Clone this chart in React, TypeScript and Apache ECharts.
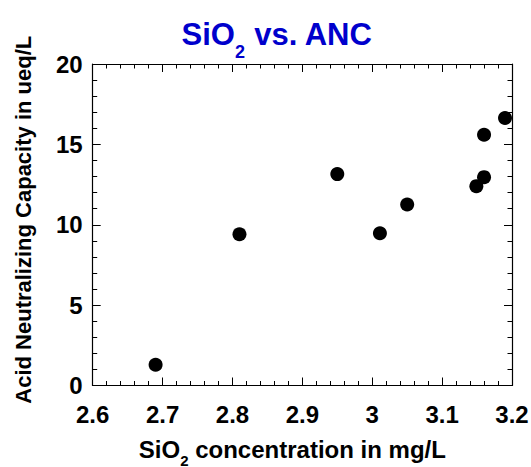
import React, { useEffect, useRef } from "react";
import * as echarts from "echarts";

const sio2 = [2.69, 2.81, 2.95, 3.011, 3.05, 3.149, 3.16, 3.16, 3.19];
const anc = [1.29, 9.41, 13.15, 9.47, 11.26, 12.4, 12.96, 15.6, 16.64];
const xTicks = [2.6, 2.7, 2.8, 2.9, 3.0, 3.1, 3.2];
const yTicks = [0, 5, 10, 15, 20];

const FONT = "'Liberation Sans', Arial, sans-serif";
const BLUE = "#0000CC";

export default function App() {
  const ref = useRef<HTMLDivElement>(null);
  useEffect(() => {
    if (!ref.current) return;
    const chart = echarts.init(ref.current, undefined, { renderer: "svg" });
    const tickCommon = {
      axisLine: { show: true, onZero: false, lineStyle: { color: "#000", width: 1.2 } },
      axisTick: { show: true, inside: true, length: 8, lineStyle: { color: "#000", width: 1 } },
      minorTick: { show: true, splitNumber: 5, length: 4.5, lineStyle: { color: "#000", width: 1 } },
      splitLine: { show: false },
      minorSplitLine: { show: false },
    };
    chart.setOption({
      animation: false,
      backgroundColor: "#fff",
      title: {
        text: "{a|SiO}{b|2}{a| vs. ANC}",
        left: 272,
        top: 2,
        textAlign: "center",
        textStyle: {
          rich: {
            a: { fontSize: 31, fontWeight: "bold", color: BLUE, fontFamily: FONT },
            b: { fontSize: 18, fontWeight: "bold", color: BLUE, fontFamily: FONT, padding: [36, 0, 0, 0] },
          },
        },
      },
      grid: { left: 92.7, right: 19, top: 64, bottom: 81.5, containLabel: false, outerBoundsMode: "none" },
      xAxis: [
        {
          type: "value",
          position: "bottom",
          min: xTicks[0],
          max: xTicks[xTicks.length - 1],
          interval: 0.1,
          ...tickCommon,
          axisLabel: {
            margin: 17,
            fontSize: 24,
            fontWeight: "bold",
            color: "#000",
            fontFamily: FONT,
            formatter: (v: number) => String(Math.round(v * 10) / 10),
          },
          name: "{a|SiO}{b|2}{a| concentration in mg/L}",
          nameLocation: "middle",
          nameGap: 45,
          nameTextStyle: {
            padding: [0, 20, 0, 0],
            rich: {
              a: { fontSize: 24, fontWeight: "bold", color: "#000", fontFamily: FONT },
              b: { fontSize: 15, fontWeight: "bold", color: "#000", fontFamily: FONT, padding: [22, 0, 0, 0] },
            },
          },
        },
        {
          type: "value",
          position: "top",
          min: xTicks[0],
          max: xTicks[xTicks.length - 1],
          interval: 0.1,
          ...tickCommon,
          axisLabel: { show: false },
        },
      ],
      yAxis: [
        {
          type: "value",
          position: "left",
          min: yTicks[0],
          max: yTicks[yTicks.length - 1],
          interval: 5,
          ...tickCommon,
          axisLabel: {
            margin: 10,
            fontSize: 24,
            fontWeight: "bold",
            color: "#000",
            fontFamily: FONT,
          },
          name: "Acid Neutralizing Capacity in ueq/L",
          nameLocation: "middle",
          nameGap: 58,
          nameTextStyle: { fontSize: 22, fontWeight: "bold", color: "#000", fontFamily: FONT, padding: [0, 0, 0, 10] },
        },
        {
          type: "value",
          position: "right",
          min: yTicks[0],
          max: yTicks[yTicks.length - 1],
          interval: 5,
          ...tickCommon,
          axisLabel: { show: false },
        },
      ],
      series: [
        {
          type: "scatter",
          data: sio2.map((x, i) => [x, anc[i]]),
          symbol: "circle",
          symbolSize: 14,
          itemStyle: { color: "#000", opacity: 1 },
        },
      ],
    });
    return () => chart.dispose();
  }, []);
  return <div ref={ref} style={{ width: 531, height: 467, position: "absolute", left: 0, top: 0 }} />;
}
